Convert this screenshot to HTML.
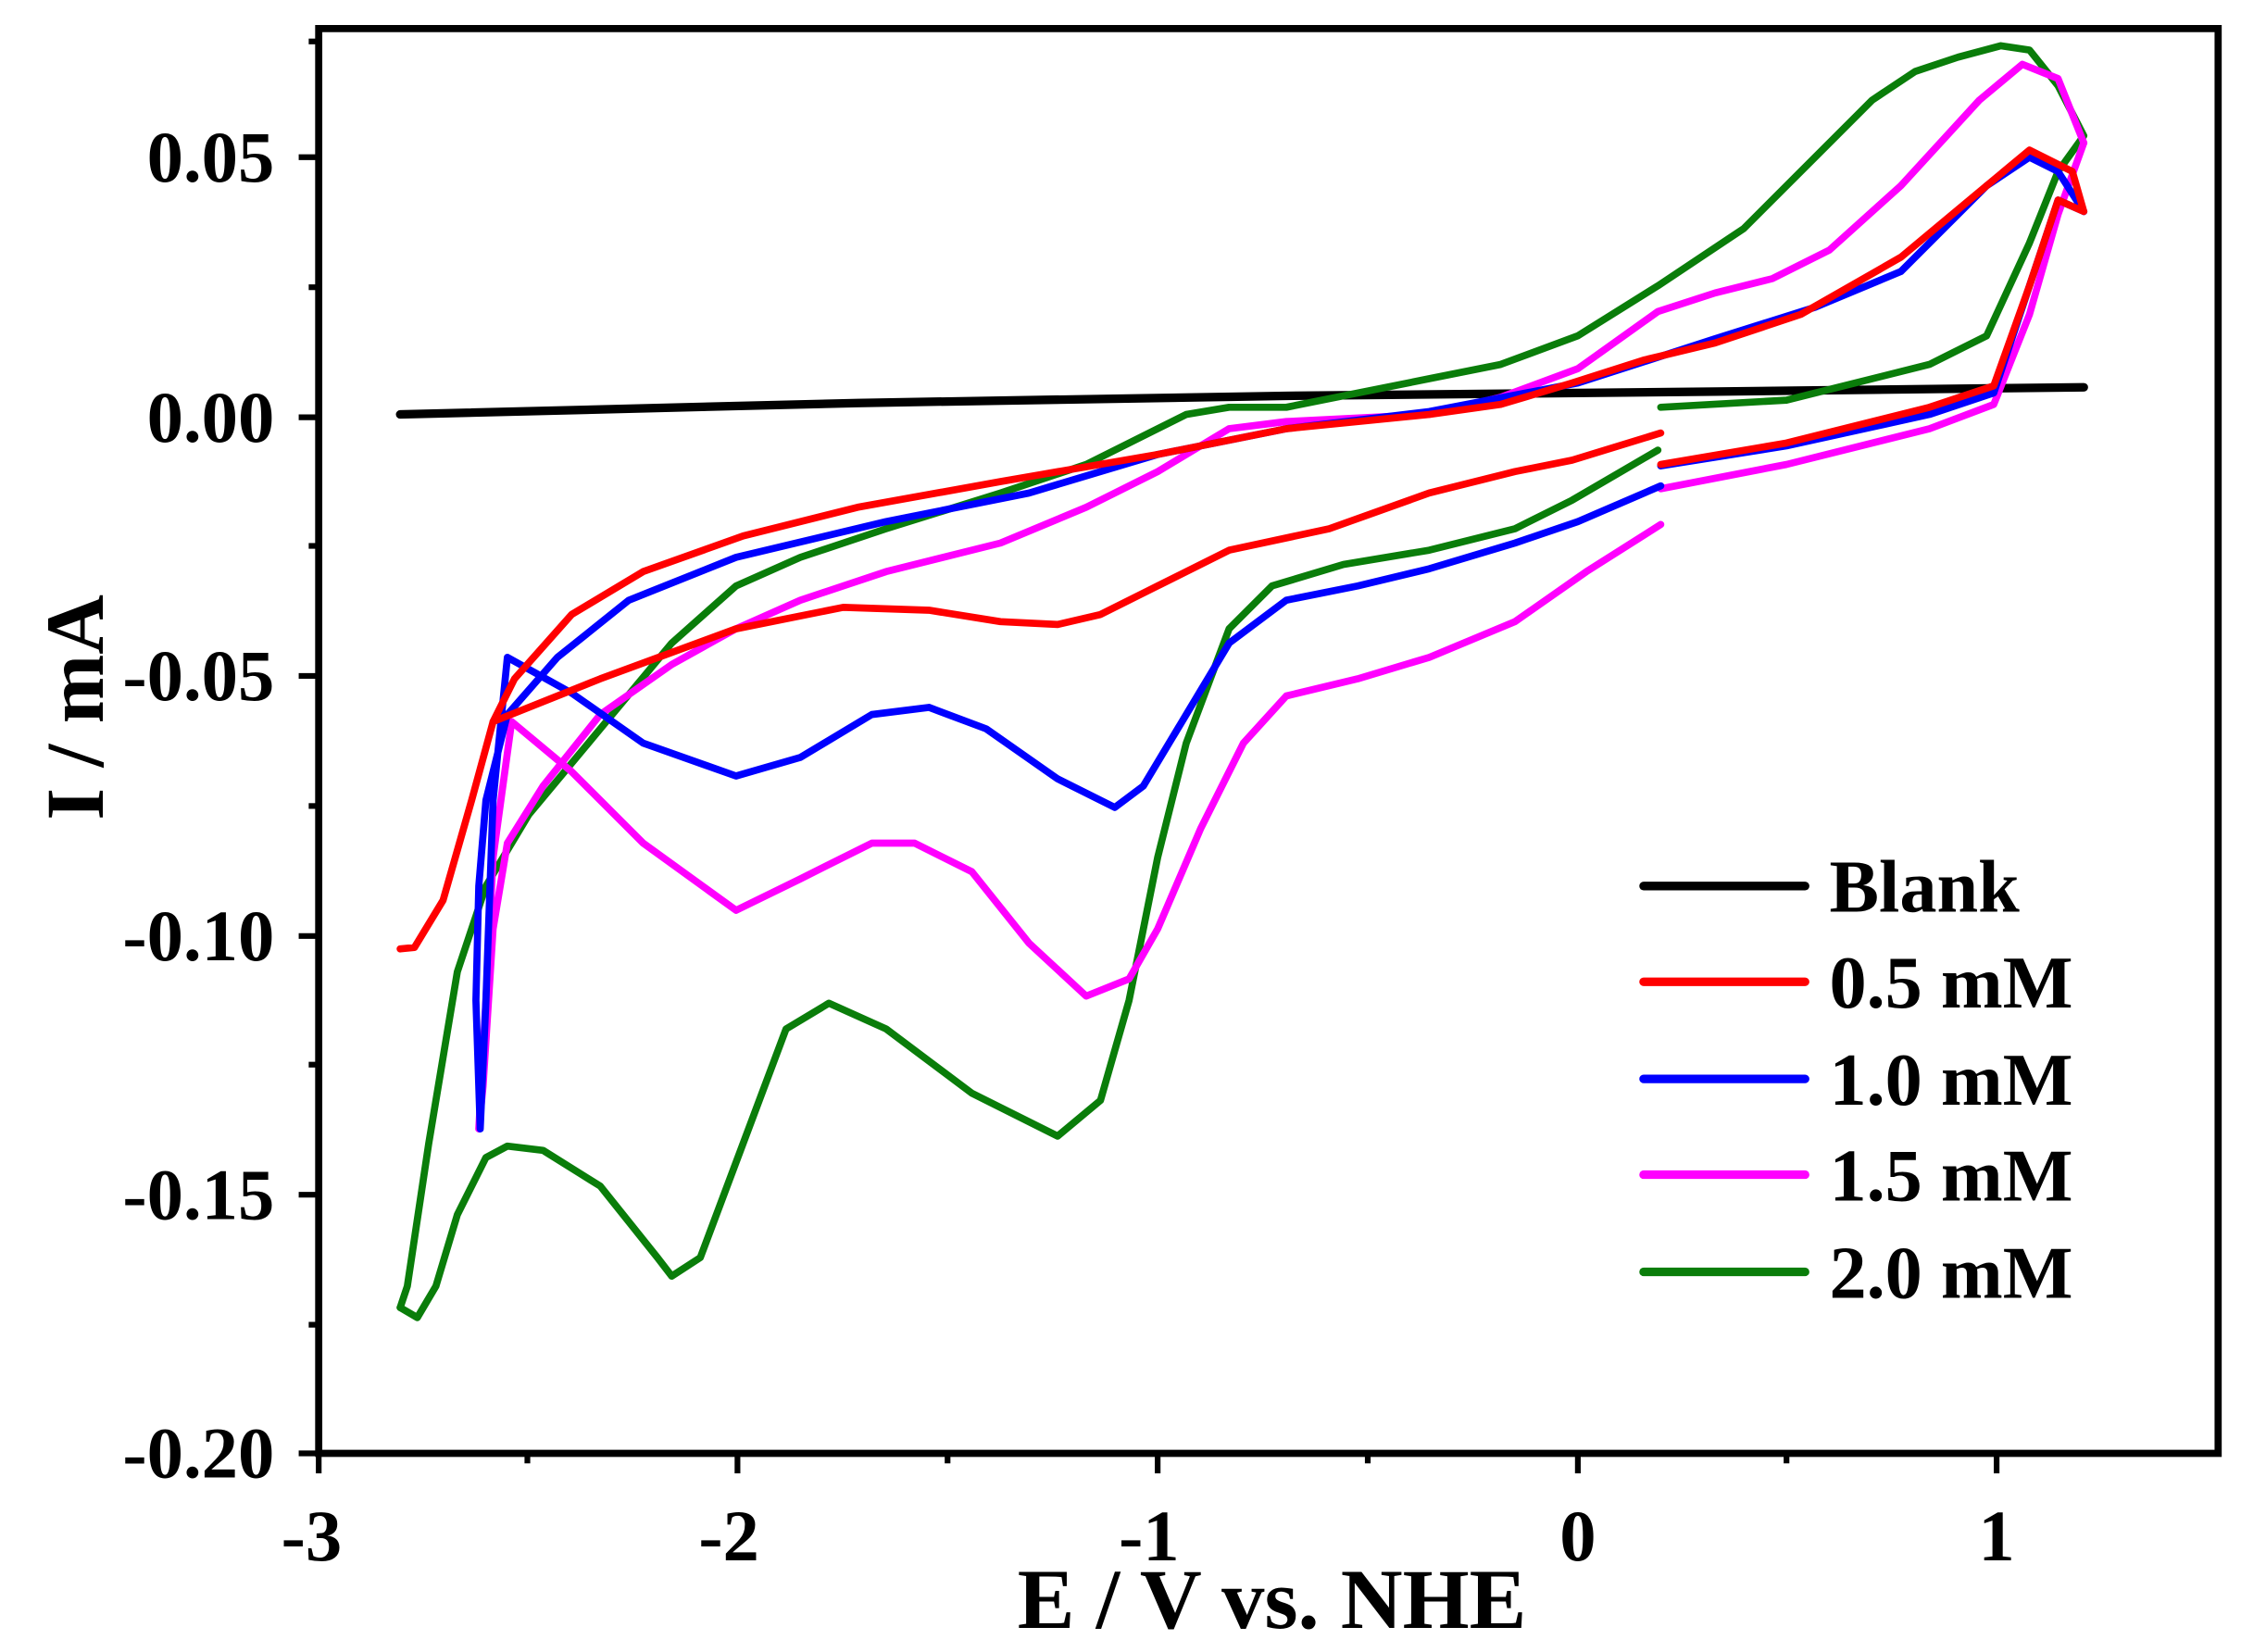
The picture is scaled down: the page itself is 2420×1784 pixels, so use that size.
<!DOCTYPE html>
<html><head><meta charset="utf-8"><style>
html,body{margin:0;padding:0;background:#fff;}
svg{display:block;}
text{font-family:"Liberation Serif",serif;font-weight:bold;fill:#000;}
</style></head><body>
<svg width="2420" height="1784" viewBox="0 0 1568 1156" preserveAspectRatio="none" xmlns="http://www.w3.org/2000/svg">
<rect width="1568" height="1156" fill="#fff"/>
<g fill="none" stroke-linejoin="round" stroke-linecap="round" stroke-width="5">
<polyline stroke="#000" stroke-width="6" points="280,290 600,282 900,277 1200,274 1458,271"/>
<polyline stroke="#0a7d0a" points="280,915 292,922 305,900 320,850 340,810 355,802 380,805 420,830 460,880 470,893 490,880 520,800 550,720 580,702 620,720 680,765 740,795 770,770 790,700 810,600 830,520 860,440 890,410 940,395 1000,385 1060,370 1100,350 1160,315"/>
<polyline stroke="#0a7d0a" points="1162,285 1250,280 1350,255 1390,235 1420,170 1440,120 1458,95 1440,60 1420,35 1400,32 1370,40 1340,50 1310,70 1270,110 1220,160 1160,200 1104,235 1050,255 1000,265 950,275 900,285 860,285 830,290 800,305 760,325 700,345 620,370 560,390 515,410 470,450 420,510 370,570 340,620 320,680 300,800 285,900 280,915"/>
<polyline stroke="#ff00ff" points="1458,100 1440,55 1415,45 1385,70 1330,130 1280,175 1240,195 1200,205 1160,218 1104,258 1050,278 1000,290 900,295 860,300 810,330 760,355 700,380 620,400 560,420 515,440 470,465 420,500 380,550 355,590 345,650 338,760 335,790 340,700 345,600 358,505 400,540 450,590 515,637 560,615 610,590 640,590 680,610 720,660 760,697 790,685 810,650 840,580 870,520 900,487 950,475 1000,460 1060,435 1110,400 1162,367"/>
<polyline stroke="#ff00ff" points="1162,342 1250,325 1350,300 1395,283 1420,220 1440,150 1458,100"/>
<polyline stroke="#0000ff" points="1458,148 1440,120 1420,110 1390,130 1330,190 1270,215 1200,237 1160,250 1104,268 1000,288 900,300 810,318 720,345 620,365 515,390 440,420 390,460 355,500 340,560 335,620 333,700 336,790 340,700 345,560 355,460 400,485 450,520 515,543 560,530 610,500 650,495 690,510 740,545 780,565 800,550 830,500 860,450 900,420 950,410 1000,398 1060,380 1104,365 1162,340"/>
<polyline stroke="#0000ff" points="1162,326 1250,312 1350,290 1395,275 1420,200 1440,140 1458,148"/>
<polyline stroke="#ff0000" points="280,664 290,663 310,630 330,560 345,505 420,475 515,440 590,425 650,427 700,435 740,437 770,430 810,410 860,385 930,370 1000,345 1060,330 1100,322 1162,303"/>
<polyline stroke="#ff0000" points="1162,325 1250,310 1350,285 1395,270 1420,200 1440,140 1458,148 1450,120 1420,105 1390,130 1330,180 1260,220 1200,240 1150,252 1100,268 1050,283 1000,290 900,300 810,318 700,337 600,355 520,375 450,400 400,430 360,475 345,505"/>
</g>
<rect x="223" y="20" width="1329" height="997" fill="none" stroke="#000" stroke-width="5"/>
<g stroke="#000" stroke-width="4">
<line x1="223" y1="1017" x2="223" y2="1031"/><line x1="516" y1="1017" x2="516" y2="1031"/><line x1="810" y1="1017" x2="810" y2="1031"/><line x1="1104" y1="1017" x2="1104" y2="1031"/><line x1="1397" y1="1017" x2="1397" y2="1031"/>
<line x1="369" y1="1017" x2="369" y2="1024"/><line x1="663" y1="1017" x2="663" y2="1024"/><line x1="957" y1="1017" x2="957" y2="1024"/><line x1="1250" y1="1017" x2="1250" y2="1024"/>
<line x1="209" y1="110" x2="223" y2="110"/><line x1="209" y1="292" x2="223" y2="292"/><line x1="209" y1="473" x2="223" y2="473"/><line x1="209" y1="655" x2="223" y2="655"/><line x1="209" y1="836" x2="223" y2="836"/><line x1="209" y1="1017" x2="223" y2="1017"/>
<line x1="216" y1="201" x2="223" y2="201"/><line x1="216" y1="382" x2="223" y2="382"/><line x1="216" y1="564" x2="223" y2="564"/><line x1="216" y1="745" x2="223" y2="745"/><line x1="216" y1="927" x2="223" y2="927"/><line x1="216" y1="29" x2="223" y2="29"/>
</g>
<g font-size="51" text-anchor="end">
<text x="192" y="127">0.05</text><text x="192" y="309">0.00</text><text x="192" y="490">-0.05</text><text x="192" y="672">-0.10</text><text x="192" y="853">-0.15</text><text x="192" y="1034">-0.20</text>
</g>
<g font-size="51" text-anchor="middle">
<text x="218" y="1092">-3</text><text x="510" y="1092">-2</text><text x="804" y="1092">-1</text><text x="1104" y="1092">0</text><text x="1397" y="1092">1</text>
</g>
<text x="890" y="1139" font-size="60" text-anchor="middle">E / V vs. NHE</text>
<text transform="translate(72,495) rotate(-90)" font-size="58" text-anchor="middle">I / mA</text>
<g stroke-width="6" stroke-linecap="round">
<line x1="1150" y1="620" x2="1263" y2="620" stroke="#000"/>
<line x1="1150" y1="687" x2="1263" y2="687" stroke="#ff0000"/>
<line x1="1150" y1="755" x2="1263" y2="755" stroke="#0000ff"/>
<line x1="1150" y1="822" x2="1263" y2="822" stroke="#ff00ff"/>
<line x1="1150" y1="890" x2="1263" y2="890" stroke="#0a7d0a"/>
</g>
<g font-size="52">
<text x="1280" y="638">Blank</text><text x="1280" y="705">0.5 mM</text><text x="1280" y="773">1.0 mM</text><text x="1280" y="840">1.5 mM</text><text x="1280" y="908">2.0 mM</text>
</g>
</svg>
</body></html>
